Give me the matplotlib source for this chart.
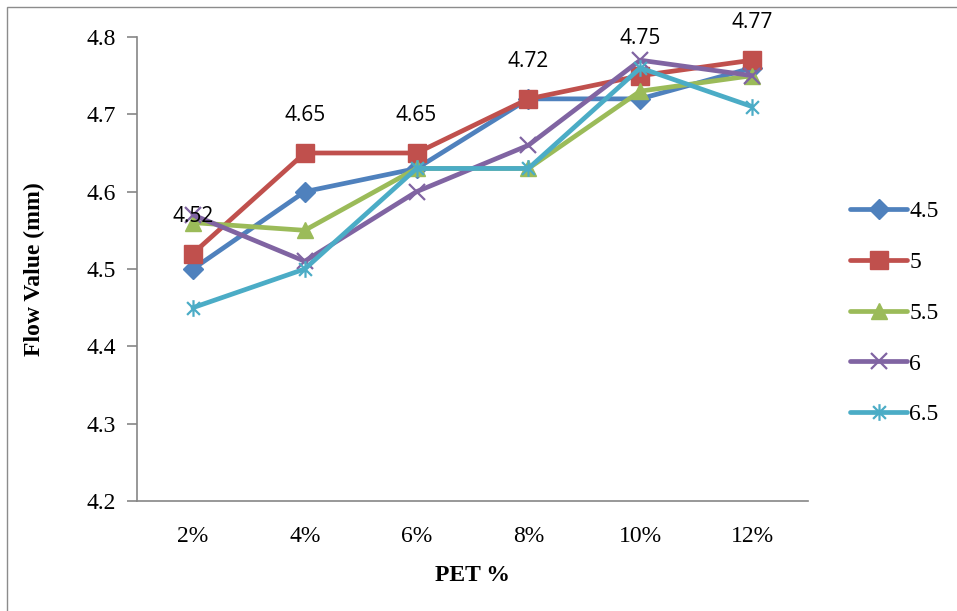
import matplotlib
matplotlib.use("Agg")
import matplotlib.pyplot as plt
from matplotlib.path import Path
from matplotlib.patches import Rectangle

# Data
categories = ["2%", "4%", "6%", "8%", "10%", "12%"]
series_names = ["4.5", "5", "5.5", "6", "6.5"]
s45 = [4.50, 4.60, 4.63, 4.72, 4.72, 4.76]
s50 = [4.52, 4.65, 4.65, 4.72, 4.75, 4.77]
s55 = [4.56, 4.55, 4.63, 4.63, 4.73, 4.75]
s60 = [4.57, 4.51, 4.60, 4.66, 4.77, 4.75]
s65 = [4.45, 4.50, 4.63, 4.63, 4.76, 4.71]
labelled = s50

colors = ["#4F81BD", "#C0504D", "#9BBB59", "#8064A2", "#4BACC6"]

# Excel-style star marker: an x with a vertical bar
star = Path(
    [(-1, -1), (1, 1), (-1, 1), (1, -1), (0, -1.3), (0, 1.3)],
    [Path.MOVETO, Path.LINETO, Path.MOVETO, Path.LINETO, Path.MOVETO, Path.LINETO],
)
markers = ["D", "s", "^", "x", star]
msizes = [10, 13, 12, 11, 12]

serif = ["Liberation Serif", "DejaVu Serif"]
sans = ["Open Sans", "DejaVu Sans"]

fig = plt.figure(figsize=(9.57, 6.11), dpi=100)
fig.patches.append(Rectangle((7 / 957, -0.2), 1.2, 1 - 7 / 611 + 0.2,
                             transform=fig.transFigure, fill=False,
                             edgecolor="#8c8c8c", linewidth=1.0))

ax = fig.add_axes([137 / 957, 110 / 611, 671 / 957, 464 / 611])
x = list(range(len(categories)))
for vals, name, c, m, ms in zip([s45, s50, s55, s60, s65], series_names, colors, markers, msizes):
    mkw = dict(markerfacecolor=c, markeredgecolor=c)
    if m in ("x",) or m is star:
        mkw["markeredgewidth"] = 1.6
    ax.plot(x, vals, color=c, linewidth=3.4, marker=m, markersize=ms, label=name,
            solid_capstyle="round", solid_joinstyle="round", **mkw)

for xi, v in zip(x, labelled):
    ax.annotate(f"{v:.2f}", (xi, v), xytext=(0, 27), textcoords="offset points",
                ha="center", va="center", fontsize=15, family=sans, color="black")

ax.set_xlim(-0.5, len(categories) - 0.5)
ax.set_ylim(4.2, 4.8)
ax.set_yticks([4.2, 4.3, 4.4, 4.5, 4.6, 4.7, 4.8])
ax.set_yticklabels(["4.2", "4.3", "4.4", "4.5", "4.6", "4.7", "4.8"], family=serif, fontsize=17)
ax.set_xticks(x)
ax.set_xticklabels(categories, family=serif, fontsize=17)
ax.tick_params(axis="y", length=7, width=1.2, color="#868686", pad=8)
ax.tick_params(axis="x", length=0, pad=18)

for side in ("top", "right"):
    ax.spines[side].set_visible(False)
for side in ("left", "bottom"):
    ax.spines[side].set_color("#868686")
    ax.spines[side].set_linewidth(1.2)

ax.set_ylabel("Flow Value (mm)", family=serif, fontsize=17, fontweight="bold", labelpad=30)
ax.set_xlabel("PET %", family=serif, fontsize=17, fontweight="bold", labelpad=13)

leg = ax.legend(loc="center left", bbox_to_anchor=(1.048, 0.405), frameon=False,
                prop={"family": serif, "size": 17}, handlelength=2.45,
                labelspacing=1.24, handletextpad=0.08, borderaxespad=0)

fig.savefig("out.png", dpi=100)
